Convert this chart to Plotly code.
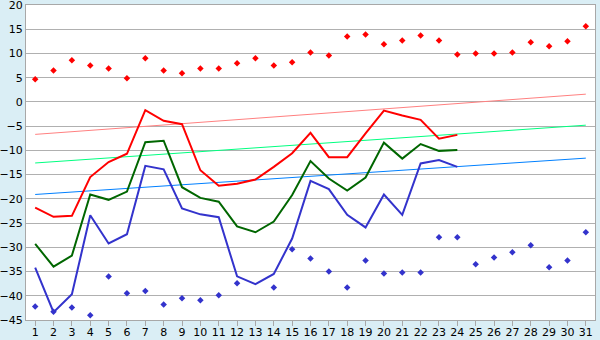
import plotly.graph_objects as go

days = list(range(1, 32))

red_dots = [4.7, 6.5, 8.6, 7.5, 6.9, 4.9, 9.0, 6.5, 5.9, 6.9, 6.9, 8.0, 9.0, 7.5, 8.2,
            10.2, 9.6, 13.5, 13.9, 11.9, 12.7, 13.7, 12.7, 9.8, 10.0, 10.0, 10.2, 12.3,
            11.5, 12.5, 15.6]
blue_dots = [-42.2, -43.3, -42.4, -44.0, -36.0, -39.5, -39.0, -41.8, -40.5, -40.9, -39.9,
             -37.4, None, -38.3, -30.4, -32.3, -35.0, -38.3, -32.7, -35.4, -35.2, -35.2,
             -27.9, -27.9, -33.5, -32.1, -31.0, -29.6, -34.1, -32.7, -26.9]

line_days = list(range(1, 25))
red_line = [-21.8, -23.7, -23.5, -15.5, -12.4, -10.7, -1.7, -3.9, -4.6, -14.1, -17.3,
            -16.9, -16.0, -13.4, -10.6, -6.4, -11.4, -11.4, -6.5, -1.8, -2.8, -3.7, -7.6, -6.8]
green_line = [-29.3, -34.0, -31.7, -19.1, -20.2, -18.5, -8.3, -8.0, -17.6, -19.8, -20.6,
              -25.7, -26.9, -24.7, -19.2, -12.2, -15.8, -18.3, -15.6, -8.4, -11.7, -8.7,
              -10.1, -9.9]
blue_line = [-34.2, -43.4, -39.7, -23.4, -29.2, -27.3, -13.2, -13.9, -22.0, -23.2, -23.8,
             -36.0, -37.6, -35.5, -28.2, -16.3, -18.0, -23.3, -25.9, -19.1, -23.3, -12.7,
             -12.0, -13.4]

trend_days = [1, 31]
red_trend = [-6.7, 1.6]
green_trend = [-12.6, -4.8]
blue_trend = [-19.1, -11.6]

ytick_vals = list(range(-45, 21, 5))

fig = go.Figure()
fig.add_trace(go.Scatter(x=days, y=red_dots, mode="markers",
                         marker=dict(symbol="diamond", size=5, color="#FF0000")))
fig.add_trace(go.Scatter(x=days, y=blue_dots, mode="markers",
                         marker=dict(symbol="diamond", size=5, color="#3333CC")))
fig.add_trace(go.Scatter(x=trend_days, y=red_trend, mode="lines",
                         line=dict(color="#FF8080", width=1)))
fig.add_trace(go.Scatter(x=trend_days, y=green_trend, mode="lines",
                         line=dict(color="#00FF80", width=1)))
fig.add_trace(go.Scatter(x=trend_days, y=blue_trend, mode="lines",
                         line=dict(color="#0080FF", width=1)))
fig.add_trace(go.Scatter(x=line_days, y=red_line, mode="lines",
                         line=dict(color="#FF0000", width=2)))
fig.add_trace(go.Scatter(x=line_days, y=green_line, mode="lines",
                         line=dict(color="#006600", width=2)))
fig.add_trace(go.Scatter(x=line_days, y=blue_line, mode="lines",
                         line=dict(color="#3333CC", width=2)))

fig.update_layout(
    width=600, height=340,
    margin=dict(l=26, r=5, t=5, b=20),
    paper_bgcolor="#DAEEF5",
    plot_bgcolor="#FFFFFF",
    showlegend=False,
    font=dict(family="DejaVu Sans", size=11, color="#000000"),
)
fig.update_xaxes(
    range=[0.5, 31.5], tickmode="array", tickvals=days, ticktext=[str(d) for d in days],
    showgrid=False, zeroline=False, showline=True, linecolor="#A8A8A8", linewidth=1,
    mirror=True, ticks="outside", ticklen=5, tickcolor="#A8A8A8", tickfont=dict(size=11),
    automargin=False, ticklabelstandoff=-3, ticklabeloverflow="allow",
)
fig.update_yaxes(
    range=[-45, 20], tickmode="array", tickvals=ytick_vals,
    showgrid=True, gridcolor="#B0B0B0", gridwidth=1, zeroline=False,
    showline=True, linecolor="#A8A8A8", linewidth=1, mirror=True, ticks="",
    tickfont=dict(size=11), ticklabeloverflow="allow", automargin=False,
)

fig.write_html("out.html")
